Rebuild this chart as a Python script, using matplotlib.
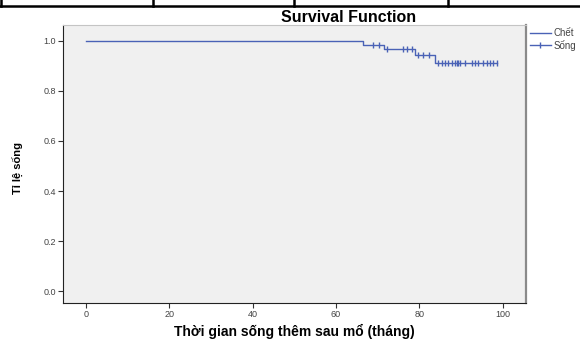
import matplotlib.pyplot as plt
import numpy as np
from matplotlib.lines import Line2D

# Kaplan-Meier steps (months, survival)
step_times = [0, 66.5, 71.5, 79.0, 83.8]
step_surv = [1.0, 0.983, 0.966, 0.945, 0.912]
last_time = 98.6

# censored observations (months)
censor_times = [69.0, 70.4,
                72.2, 76.0, 77.0, 78.2,
                79.7, 81.0, 82.3,
                84.5, 85.4, 86.2, 86.9, 87.8, 88.6, 89.0, 89.3, 89.8,
                91.0, 92.6, 93.4, 94.1, 95.3, 96.2, 97.0, 97.7, 98.6]

x_ticks = [0, 20, 40, 60, 80, 100]
y_ticks = [0.0, 0.2, 0.4, 0.6, 0.8, 1.0]

line_col = "#4a62b6"
fam = ["Liberation Sans", "DejaVu Sans"]

fig = plt.figure(figsize=(5.8, 3.39), dpi=100)
ax = fig.add_axes([63 / 580, 36 / 339, 463 / 580, 278 / 339])
ax.set_facecolor("#f0f0f0")

# step curve
xs = list(step_times) + [last_time]
ys = list(step_surv) + [step_surv[-1]]
ax.step(xs, ys, where="post", color=line_col, lw=1.0)

# censor marks sit on the current step level
idx = np.searchsorted(step_times, censor_times, side="right") - 1
c_surv = np.array(step_surv)[idx]
ax.plot(censor_times, c_surv, ls="none", marker="|", ms=5, mew=1.0, color=line_col)

ax.set_xlim(-5.5, 105.6)
ax.set_ylim(-0.047, 1.063)
ax.set_xticks(x_ticks)
ax.set_yticks(y_ticks)
ax.set_yticklabels([f"{v:.1f}" for v in y_ticks])
ax.tick_params(direction="out", length=3.5, width=0.8, colors="#333333",
               labelsize=6.5, pad=1.5)
for lab in ax.get_xticklabels() + ax.get_yticklabels():
    lab.set_family(fam)
    lab.set_color("#444444")

ax.spines["top"].set_color("#c4c4c4")
ax.spines["right"].set_color("#8a8a8a")
ax.spines["right"].set_linewidth(1.6)
ax.spines["left"].set_color("#222222")
ax.spines["bottom"].set_color("#222222")

fig.text(349 / 580, 1 - 18 / 339, "Survival Function", ha="center", va="center",
         fontsize=11.5, fontweight="bold", family=fam)
fig.text(294 / 580, 3 / 339, "Thời gian sống thêm sau mổ (tháng)",
         ha="center", va="baseline", fontsize=10, fontweight="bold", family=fam)
fig.text(18 / 580, 1 - 168 / 339, "Tỉ lệ sống", ha="center", va="center",
         rotation=90, fontsize=8, fontweight="bold",
         family=["Liberation Sans Narrow"] + fam)

# legend outside right
handles = [Line2D([], [], color=line_col, lw=1.0),
           Line2D([], [], color=line_col, lw=1.0, marker="|", ms=5)]
leg = ax.legend(handles, ["Chết", "Sống"], loc="upper left",
                bbox_to_anchor=(0.995, 1.01), frameon=False,
                handlelength=2.2, handletextpad=0.3, borderpad=0.1,
                labelspacing=0.15, prop={"family": fam, "size": 7})
for t in leg.get_texts():
    t.set_color("#444444")

# fragment of the table above the chart
fig.add_artist(Line2D([0, 1], [1 - 6 / 339, 1 - 6 / 339], transform=fig.transFigure,
                      color="black", lw=1.8))
for xp in [1, 153, 294, 448]:
    fig.add_artist(Line2D([xp / 580, xp / 580], [1, 1 - 6 / 339], transform=fig.transFigure,
                          color="black", lw=1.8))

fig.savefig("out.png", dpi=100)
